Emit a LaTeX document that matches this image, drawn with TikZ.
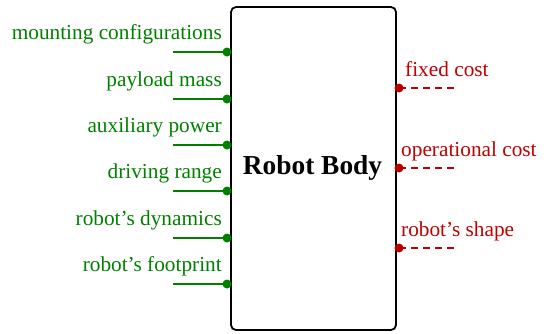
\documentclass[tikz,border=0pt]{standalone}
\usepackage{fontspec}
\setmainfont{Liberation Serif}
\begin{document}
\begin{tikzpicture}[x=1pt,y=-1pt,
  inlab/.style={text=green!50!black,anchor=base east,inner sep=0pt,font=\fontsize{21.3}{25}\selectfont},
  outlab/.style={text=red!75!black,anchor=base west,inner sep=0pt,font=\fontsize{21.3}{25}\selectfont},
  inline/.style={draw=green!50!black,line width=1.6pt},
  outline/.style={draw=red!75!black,line width=1.4pt,dash pattern=on 7pt off 5pt},
  indot/.style={circle,fill=green!50!black,inner sep=0pt,minimum size=9pt},
  outdot/.style={circle,fill=red!75!black,inner sep=0pt,minimum size=9pt},
  body/.style={draw=black,line width=1.8pt,rounded corners=5pt}]
\useasboundingbox (0,0) rectangle (550,333);
\draw[body] (231,7) rectangle (396,330);
\node[font=\fontsize{27.4}{32}\selectfont\bfseries] (title) at (312.5,168) {Robot Body};
% inputs
\foreach \i/\y/\t in {1/52/mounting configurations,2/99/payload mass,3/145/auxiliary power,4/191/driving range,5/238/robot's dynamics,6/284/robot's footprint}{
  \node[indot] (d\i) at (227,\y) {};
  \coordinate (s\i) at (173,\y);
  \draw[inline] (s\i) -- (d\i.center);
  \node[inlab] (l\i) at (222,\y-13) {\t};
}
% outputs
\foreach \i/\y/\t/\dx in {1/88/fixed cost/405,2/168/operational cost/401,3/248/robot's shape/401}{
  \node[outdot] (o\i) at (399,\y) {};
  \coordinate (e\i) at (458,\y);
  \draw[outline] (o\i.center) -- (e\i);
  \node[outlab] (r\i) at (\dx,\y-12) {\t};
}
\end{tikzpicture}
\end{document}
